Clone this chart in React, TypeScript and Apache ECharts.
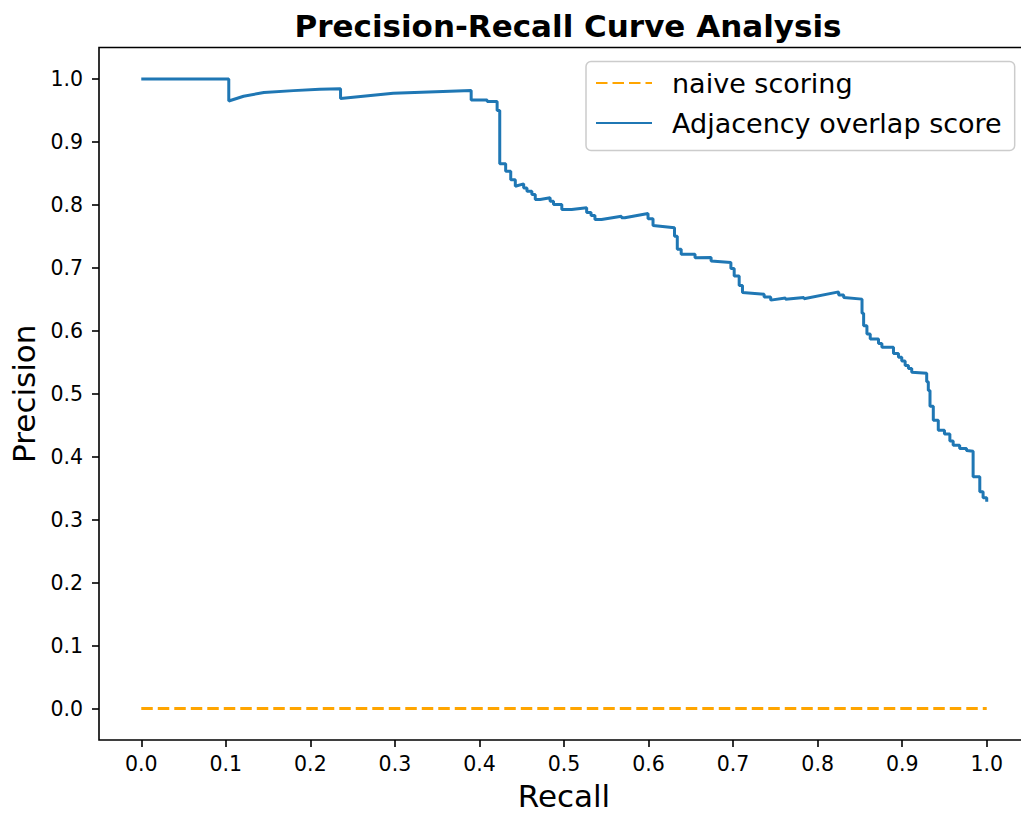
import React, { useEffect, useRef } from "react";
import * as echarts from "echarts";

const tickValues = [0, 0.1, 0.2, 0.3, 0.4, 0.5, 0.6, 0.7, 0.8, 0.9, 1.0];

const naiveRecall = [0, 1];
const naivePrecision = [0, 0];

const adjRecall = [
  0.0, 0.1035, 0.1035, 0.121, 0.145, 0.18, 0.211, 0.2357, 0.2357, 0.298, 0.3902, 0.3902,
  0.4091, 0.4091, 0.4209, 0.4209, 0.424, 0.424, 0.431, 0.431, 0.437, 0.437, 0.4424, 0.4424,
  0.4523, 0.4523, 0.4562, 0.4562, 0.462, 0.462, 0.466, 0.466, 0.4718, 0.4836, 0.4836, 0.4876,
  0.4876, 0.4974, 0.4974, 0.5091, 0.5268, 0.5268, 0.532, 0.532, 0.5366, 0.5366, 0.5444, 0.568,
  0.568, 0.5719, 0.5994, 0.5994, 0.6053, 0.6053, 0.6307, 0.6307, 0.634, 0.634, 0.6386, 0.6386,
  0.655, 0.655, 0.674, 0.674, 0.6974, 0.6974, 0.7013, 0.7013, 0.7072, 0.7072, 0.7111, 0.7111,
  0.7367, 0.7367, 0.7445, 0.7445, 0.762, 0.762, 0.7838, 0.7838, 0.8249, 0.8249, 0.8308, 0.8308,
  0.8525, 0.8525, 0.8544, 0.8544, 0.8583, 0.8583, 0.8622, 0.8622, 0.872, 0.872, 0.876, 0.876,
  0.8897, 0.8897, 0.8956, 0.8956, 0.8995, 0.8995, 0.9035, 0.9035, 0.9074, 0.9074, 0.9113, 0.9113,
  0.929, 0.929, 0.9309, 0.9309, 0.9329, 0.9329, 0.9368, 0.9368, 0.9427, 0.9427, 0.95, 0.95,
  0.9564, 0.9564, 0.9603, 0.9603, 0.968, 0.968, 0.9761, 0.9761, 0.9839, 0.9839, 0.9918, 0.9918,
  0.9957, 0.9957, 1.0, 1.0,
];

const adjPrecision = [
  1.0, 1.0, 0.965, 0.9726, 0.9786, 0.9815, 0.9837, 0.9845, 0.969, 0.9773, 0.9815, 0.9667,
  0.9667, 0.9641, 0.9641, 0.9499, 0.9499, 0.8655, 0.8655, 0.8534, 0.8534, 0.84, 0.84, 0.8296,
  0.8334, 0.827, 0.827, 0.8217, 0.8217, 0.8165, 0.8165, 0.8085, 0.8085, 0.8112, 0.8059, 0.8059,
  0.8006, 0.8006, 0.7927, 0.7927, 0.7954, 0.788, 0.788, 0.7832, 0.7832, 0.7769, 0.7769, 0.7821,
  0.7796, 0.7796, 0.7864, 0.778, 0.778, 0.7674, 0.7638, 0.75, 0.75, 0.7294, 0.7294, 0.7215,
  0.7215, 0.716, 0.7163, 0.711, 0.7084, 0.699, 0.699, 0.6872, 0.6872, 0.672, 0.672, 0.661,
  0.6582, 0.6535, 0.6535, 0.6487, 0.652, 0.65, 0.653, 0.651, 0.6618, 0.657, 0.657, 0.653,
  0.6503, 0.628, 0.628, 0.608, 0.608, 0.595, 0.595, 0.587, 0.587, 0.58, 0.58, 0.5739,
  0.5739, 0.564, 0.564, 0.558, 0.558, 0.552, 0.552, 0.5448, 0.5448, 0.54, 0.54, 0.5343,
  0.5327, 0.519, 0.519, 0.5052, 0.5052, 0.48, 0.48, 0.4578, 0.4578, 0.4419, 0.4419, 0.436,
  0.436, 0.425, 0.425, 0.4182, 0.4182, 0.413, 0.413, 0.41, 0.4085, 0.368, 0.368, 0.3445,
  0.3445, 0.335, 0.335, 0.3286,
];

const FONT = "'DejaVu Sans', sans-serif";

export default function App() {
  const ref = useRef<HTMLDivElement>(null);
  useEffect(() => {
    const chart = echarts.init(ref.current!, null, { renderer: "svg" });
    const axisCommon = {
      type: "value",
      min: -0.05,
      max: 1.05,
      splitLine: { show: false },
      axisLine: { show: false, onZero: false },
      axisTick: {
        show: true,
        length: 7,
        customValues: tickValues,
        lineStyle: { color: "#000", width: 1.6 },
      },
      nameLocation: "middle",
      nameTextStyle: { fontFamily: FONT, fontSize: 31, color: "#000" },
    };
    chart.setOption({
      animation: false,
      backgroundColor: "#fff",
      title: {
        text: "Precision-Recall Curve Analysis",
        left: 563,
        top: 5,
        textAlign: "center",
        textStyle: { fontFamily: FONT, fontSize: 31, fontWeight: "bold", color: "#000" },
      },
      grid: {
        left: 96,
        top: 47.5,
        width: 933,
        height: 695,
        show: true,
        borderColor: "#000",
        borderWidth: 1.6,
        backgroundColor: "transparent",
      },
      xAxis: {
        ...axisCommon,
        name: "Recall",
        nameGap: 40,
        axisLabel: {
          customValues: tickValues,
          formatter: (v: number) => v.toFixed(1),
          fontFamily: FONT,
          fontSize: 20.5,
          color: "#000",
          margin: 13,
        },
      },
      yAxis: {
        ...axisCommon,
        name: "Precision",
        nameGap: 60,
        axisLabel: {
          customValues: tickValues,
          formatter: (v: number) => v.toFixed(1),
          fontFamily: FONT,
          fontSize: 20.5,
          color: "#000",
          margin: 16,
        },
      },
      legend: {
        data: ["naive scoring", "Adjacency overlap score"],
        orient: "vertical",
        left: 586,
        top: 61.5,
        padding: [8, 13, 14, 9],
        itemWidth: 56,
        itemHeight: 14,
        itemGap: 13,
        itemStyle: { opacity: 0 },
        backgroundColor: "rgba(255,255,255,0.8)",
        borderColor: "#cccccc",
        borderWidth: 1.5,
        borderRadius: 5,
        textStyle: {
          fontFamily: FONT,
          fontSize: 27,
          color: "#000",
          padding: [0, 0, 0, 15],
        },
      },
      series: [
        {
          name: "naive scoring",
          type: "line",
          data: naiveRecall.map((r, i) => [r, naivePrecision[i]]),
          symbol: "none",
          showSymbol: false,
          color: "#ffa500",
          lineStyle: { color: "#ffa500", width: 3, type: [11.5, 5] },
        },
        {
          name: "Adjacency overlap score",
          type: "line",
          data: adjRecall.map((r, i) => [r, adjPrecision[i]]),
          symbol: "none",
          showSymbol: false,
          color: "#1f77b4",
          lineStyle: { color: "#1f77b4", width: 3 },
        },
      ],
    });
    return () => chart.dispose();
  }, []);
  return (
    <div
      style={{
        position: "absolute",
        left: 0,
        top: 0,
        width: 1021,
        height: 816,
        overflow: "hidden",
        background: "#fff",
      }}
    >
      <div ref={ref} style={{ width: 1045, height: 816 }} />
    </div>
  );
}
